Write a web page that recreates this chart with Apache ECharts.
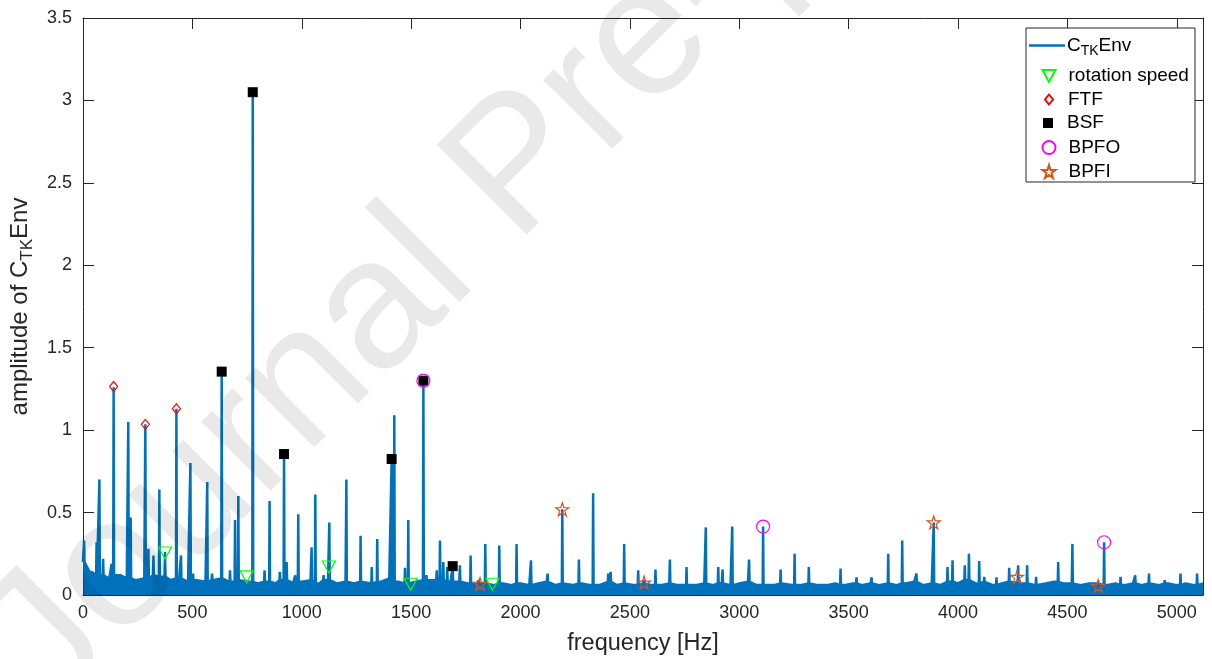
<!DOCTYPE html>
<html><head><meta charset="utf-8">
<script src="https://cdn.jsdelivr.net/npm/echarts@6/dist/echarts.min.js"></script>
<style>html,body{margin:0;padding:0;background:#fff}#c{width:1212px;height:659px}</style>
</head><body><div id="c"></div>
<script>
// Noise floor (upper envelope) sampled every FREQ_STEP Hz, 0..5120 Hz
const FREQ_STEP = 40;
const noiseFloor = [
  0.20, 0.14, 0.12, 0.10, 0.12, 0.10, 0.09, 0.10, 0.12, 0.11,
  0.09, 0.10, 0.08, 0.09, 0.08, 0.09, 0.10, 0.08, 0.09, 0.08,
  0.07, 0.08, 0.07, 0.09, 0.07, 0.08, 0.09, 0.07, 0.09, 0.07,
  0.08, 0.07, 0.08, 0.07, 0.08, 0.10, 0.08, 0.07, 0.08, 0.09,
  0.09, 0.09, 0.08, 0.08, 0.07, 0.07, 0.07, 0.06, 0.07, 0.06,
  0.07, 0.06, 0.07, 0.08, 0.06, 0.07, 0.06, 0.07, 0.06, 0.06,
  0.08, 0.06, 0.07, 0.06, 0.07, 0.06, 0.06, 0.07, 0.06, 0.06,
  0.06, 0.07, 0.06, 0.07, 0.06, 0.07, 0.08, 0.06, 0.06, 0.06,
  0.07, 0.06, 0.06, 0.07, 0.06, 0.06, 0.07, 0.06, 0.07, 0.06,
  0.07, 0.06, 0.07, 0.06, 0.07, 0.08, 0.06, 0.07, 0.06, 0.08,
  0.07, 0.09, 0.07, 0.08, 0.06, 0.07, 0.08, 0.07, 0.07, 0.06,
  0.07, 0.08, 0.07, 0.07, 0.06, 0.07, 0.07, 0.06, 0.07, 0.06,
  0.07, 0.06, 0.07, 0.06, 0.07, 0.06, 0.07, 0.06, 0.07
];
// Spectral lines (Hz) and their amplitudes
const peakFreq = [5,32,62,75,92,131,140,169,207,218,285,299,322,349,375,427,448,491,503,568,590,634,672,695,710,776,830,853,900,919,931,970,984,1045,1062,1100,1126,1204,1269,1320,1345,1411,1423,1472,1487,1556,1570,1617,1632,1647,1665,1690,1723,1772,1810,1839,1903,1982,2048,2124,2191,2267,2332,2401,2412,2474,2538,2565,2617,2683,2759,2847,2904,2924,2968,3045,3109,3189,3253,3318,3463,3536,3605,3681,3745,3810,3889,3952,3975,4031,4050,4097,4120,4176,4234,4275,4316,4357,4458,4523,4668,4743,4810,4873,4945,5017,5093];
const peakAmp = [0.33,0.15,0.32,0.70,0.22,0.19,1.26,0.13,1.05,0.47,1.035,0.28,0.24,0.64,0.26,1.13,0.24,0.80,0.13,0.685,0.13,1.355,0.15,0.455,0.60,3.05,0.15,0.57,0.14,0.855,0.20,0.12,0.49,0.29,0.61,0.12,0.44,0.70,0.36,0.17,0.34,0.825,1.09,0.165,0.455,1.30,0.12,0.15,0.33,0.20,0.17,0.175,0.18,0.24,0.09,0.31,0.30,0.31,0.21,0.13,0.52,0.215,0.617,0.13,0.14,0.31,0.15,0.09,0.155,0.215,0.17,0.41,0.17,0.155,0.415,0.215,0.415,0.155,0.25,0.17,0.16,0.107,0.107,0.25,0.33,0.13,0.44,0.17,0.21,0.18,0.25,0.206,0.11,0.107,0.165,0.18,0.18,0.11,0.20,0.31,0.32,0.11,0.12,0.13,0.09,0.13,0.13];
// Marked characteristic frequencies
const rotFreq = [375, 748, 1124, 1498, 1872];
const rotAmp  = [0.255, 0.11, 0.17, 0.065, 0.065];
const ftfFreq = [140, 285, 427];
const ftfAmp  = [1.265, 1.035, 1.13];
const bsfFreq = [634, 776, 919, 1411, 1556, 1690];
const bsfAmp  = [1.355, 3.05, 0.855, 0.825, 1.30, 0.175];
const bpfoFreq = [1556, 3109, 4668];
const bpfoAmp  = [1.30, 0.415, 0.32];
const bpfiFreq = [1815, 2191, 2565, 3889, 4270, 4641];
const bpfiAmp  = [0.067, 0.52, 0.075, 0.44, 0.11, 0.055];

const FONT = '"Liberation Sans", Arial, Helvetica, sans-serif';
const AX = '#262626';

function floorAt(f){ const i = Math.min(noiseFloor.length-1, Math.round(f/FREQ_STEP)); return noiseFloor[i]; }
const pts = [];
noiseFloor.forEach((v,i)=>{
  const f = i*FREQ_STEP;
  if (!peakFreq.some(p=>Math.abs(p-f)<3)) pts.push([f, v]);
});
peakFreq.forEach((f,i)=>{ const b = floorAt(f); pts.push([Math.max(0,f-2), b],[f, peakAmp[i]],[f+2, b]); });
pts.sort((a,b)=>a[0]-b[0]);
const zip = (a,b)=>a.map((v,i)=>[v,b[i]]);

const starPath = 'path://M50,0 L61.2,34.5 L97.6,34.5 L68.2,55.9 L79.4,90.5 L50,69.1 L20.6,90.5 L31.8,55.9 L2.4,34.5 L38.8,34.5 Z';
const triDownPath = 'path://M0,0 L26,0 L13,24 Z';

const chart = echarts.init(document.getElementById('c'), null, {renderer:'canvas'});
const axisCommon = {
  axisLine:{show:true, onZero:false, lineStyle:{color:AX, width:1}},
  axisTick:{show:true, inside:true, length:11, lineStyle:{color:AX, width:1}},
  splitLine:{show:false},
};
const plain = v => String(v);
const legendText = {color:'#000', fontSize:19, fontFamily:FONT, lineHeight:20};
function markerLegend(name, top, w, h, padLeft){
  return {data:[name], left:1048 - w/2, top:top - 10, orient:'vertical', itemWidth:w, itemHeight:h,
    padding:0, symbolKeepAspect:false, z:5,
    textStyle:Object.assign({padding:[0,0,0,padLeft]}, legendText)};
}
function hollow(color){ return {color:'rgba(0,0,0,0)', borderColor:color, borderWidth:1.2, opacity:1}; }
chart.setOption({
  animation:false,
  backgroundColor:'#fff',
  grid:{left:83, right:9, top:18, bottom:64, containLabel:false, outerBoundsMode:'none'},
  xAxis:[
    Object.assign({type:'value', min:0, max:5120, interval:500, position:'bottom',
      axisLabel:{color:AX, fontSize:18, fontFamily:FONT, margin:9, showMaxLabel:false, formatter:plain},
      name:'frequency [Hz]', nameLocation:'middle', nameGap:37,
      nameTextStyle:{color:AX, fontSize:23.5, fontFamily:FONT}}, axisCommon),
    Object.assign({type:'value', min:0, max:5120, interval:500, position:'top',
      axisLabel:{show:false}}, axisCommon)
  ],
  yAxis:[
    Object.assign({type:'value', min:0, max:3.5, interval:0.5, position:'left',
      axisLabel:{color:AX, fontSize:18, fontFamily:FONT, margin:11, formatter:plain},
      name:'amplitude of C{sub|TK}Env', nameLocation:'middle', nameGap:47,
      nameTextStyle:{color:AX, fontSize:24, fontFamily:FONT,
        rich:{sub:{fontSize:17, fontFamily:FONT, color:AX, padding:[14,0,0,0]}}}}, axisCommon),
    Object.assign({type:'value', min:0, max:3.5, interval:0.5, position:'right',
      axisLabel:{show:false}}, axisCommon)
  ],
  legend:[
    {data:[{name:'CTKEnv', icon:'rect'}], left:1029, top:36, orient:'vertical', itemWidth:36, itemHeight:2.5, padding:0, z:5,
     formatter:()=> 'C{sub|TK}Env',
     textStyle:{color:'#000', fontSize:19, fontFamily:FONT, padding:[0,0,0,-3],
       rich:{sub:{fontSize:14, fontFamily:FONT, color:'#000', padding:[11,0,0,0]}}}},
    markerLegend('rotation speed', 76, 13, 12, 8),
    markerLegend('FTF', 99.5, 8, 10, 10),
    markerLegend('BSF', 123, 10, 10, 9),
    markerLegend('BPFO', 147.5, 13, 13, 8),
    markerLegend('BPFI', 171.5, 13, 13, 8)
  ],
  graphic:[
    {type:'rect', shape:{x:1026, y:28, width:169, height:154}, style:{fill:'#fff', stroke:AX, lineWidth:1}, z:4},
    {type:'text', x:80, y:740, rotation:Math.PI*45/180,
     style:{text:'Journal Pre-proof', font:'185px "Liberation Sans"', fill:'rgba(0,0,0,0.085)', textVerticalAlign:'bottom'}, z:100, silent:true}
  ],
  series:[
    {name:'CTKEnv', type:'line', data:pts, symbol:'none', sampling:null, z:2,
     lineStyle:{color:'#0072BD', width:2.5, join:'bevel'}, itemStyle:{color:'#0072BD'},
     areaStyle:{color:'#0072BD', opacity:1, origin:'start'}},
    {name:'rotation speed', type:'scatter', data:zip(rotFreq,rotAmp), symbol:triDownPath, symbolSize:[13,12], z:3,
     itemStyle:hollow('#00FF00')},
    {name:'FTF', type:'scatter', data:zip(ftfFreq,ftfAmp), symbol:'diamond', symbolSize:[8,10], z:3,
     itemStyle:hollow('#FF0000')},
    {name:'BSF', type:'scatter', data:zip(bsfFreq,bsfAmp), symbol:'rect', symbolSize:10, z:3,
     itemStyle:{color:'#000', borderColor:'#000', borderWidth:0, opacity:1}},
    {name:'BPFO', type:'scatter', data:zip(bpfoFreq,bpfoAmp), symbol:'circle', symbolSize:13, z:3,
     itemStyle:hollow('#FF00FF')},
    {name:'BPFI', type:'scatter', data:zip(bpfiFreq,bpfiAmp), symbol:starPath, symbolSize:13, z:3,
     itemStyle:hollow('#D95319')}
  ]
});
</script></body></html>
